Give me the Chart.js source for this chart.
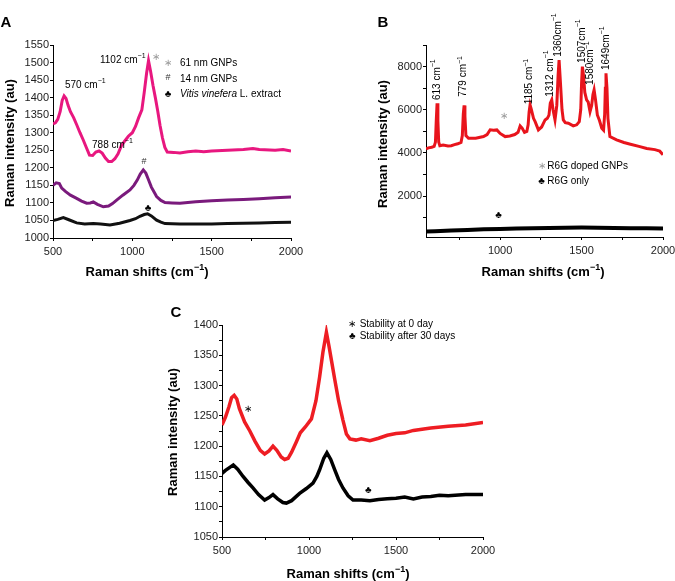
<!DOCTYPE html>
<html>
<head>
<meta charset="utf-8">
<script src="https://cdn.jsdelivr.net/npm/chart.js@4.4.0/dist/chart.umd.min.js"></script>
<style>
  html, body { margin: 0; padding: 0; background: #fff; overflow: hidden; }
  #wrap { position: relative; width: 675px; height: 581px; }
  canvas { position: absolute; }
</style>
</head>
<body>
<div id="wrap">
  <canvas id="chartA" width="310" height="290" style="left:0;top:0"></canvas>
  <canvas id="chartB" width="340" height="290" style="left:340px;top:0"></canvas>
  <canvas id="chartC" width="350" height="291" style="left:150px;top:290px"></canvas>
</div>
<script>
const FONT = '"Liberation Sans", Arial, sans-serif';

// Panel A - Raman spectra
const aPinkX = [500,515,530,545,558,570,582,595,610,630,650,670,690,710,730,750,770,790,810,830,850,870,890,910,930,950,975,1000,1020,1040,1060,1075,1090,1102,1115,1130,1145,1160,1175,1190,1205,1220,1260,1300,1350,1400,1450,1500,1600,1700,1760,1800,1900,1950,2000];
const aPinkY = [1325,1328,1338,1360,1392,1405,1398,1378,1360,1343,1322,1300,1280,1258,1236,1235,1245,1248,1242,1228,1218,1218,1226,1240,1262,1275,1290,1300,1318,1343,1365,1415,1470,1505,1475,1435,1400,1362,1320,1285,1258,1245,1244,1242,1246,1248,1246,1248,1250,1252,1255,1252,1250,1252,1248];
const aPurpleX = [500,520,540,555,580,610,649,680,712,735,754,780,817,850,875,901,940,985,1010,1031,1050,1069,1085,1100,1120,1153,1180,1206,1250,1300,1400,1500,1600,1700,1800,1900,2000];
const aPurpleY = [1150,1157,1155,1142,1132,1122,1113,1105,1099,1100,1103,1096,1089,1091,1098,1108,1122,1137,1150,1165,1182,1194,1185,1168,1145,1118,1107,1101,1100,1099,1103,1106,1108,1110,1112,1115,1117];
const aBlackX = [500,530,565,600,649,700,754,800,859,920,985,1020,1048,1075,1096,1120,1153,1180,1206,1300,1400,1500,1600,1700,1800,1900,2000];
const aBlackY = [1050,1053,1058,1052,1043,1040,1041,1040,1037,1042,1050,1055,1062,1067,1069,1063,1051,1045,1041,1040,1040,1040,1041,1042,1043,1044,1045];
const aXTicks = [500,750,1000,1250,1500,1750,2000];
const aXLabels = [500,1000,1500,2000];
const aYTicks = [1000,1050,1100,1150,1200,1250,1300,1350,1400,1450,1500,1550];
const aYLabels = aYTicks;

// Panel B - R6G
const bRedX = [545,560,580,595,603,608,613,618,623,630,650,680,700,720,740,760,768,774,779,784,790,806,850,898,920,939,960,980,1000,1031,1060,1090,1110,1123,1135,1150,1164,1172,1178,1184,1192,1205,1215,1235,1255,1276,1290,1300,1308,1317,1325,1337,1348,1356,1362,1370,1380,1388,1400,1419,1449,1470,1486,1495,1500,1505,1512,1520,1531,1541,1552,1562,1570,1577,1585,1597,1610,1624,1635,1642,1646,1650,1656,1662,1674,1715,1760,1800,1858,1900,1950,1980,2000];
const bRedY = [4180,4230,4260,4300,4500,5500,6300,5500,4500,4330,4360,4320,4330,4380,4420,4480,4800,5800,6200,5700,4800,4680,4680,4755,4850,5070,5050,5065,4900,4754,4780,4850,4950,5250,5150,4950,4990,5300,5900,6223,6000,5600,5450,5065,5200,5528,5600,5750,6300,6454,6000,5528,6200,7600,8305,7300,6000,5528,5400,5375,5250,5300,5450,6000,7200,7995,7600,6800,6454,6350,5912,6200,6700,6916,6500,5759,5500,5143,5050,5800,7000,7690,7000,5600,4754,4600,4480,4400,4291,4200,4150,4080,3907];
const bBlackX = [545,600,700,800,900,1000,1100,1200,1300,1400,1500,1600,1700,1800,1900,2000];
const bBlackY = [350,370,400,430,455,470,490,505,520,530,535,530,520,510,500,490];
const bXTicks = [750,1000,1250,1500,1750,2000];
const bXLabels = [1000,1500,2000];
const bYTicks = [1000,2000,3000,4000,5000,6000,7000,8000,9000];
const bYLabels = [2000,4000,6000,8000];
const bPeaks = ['613 ','779 ','1185 ','1312 ','1360','1507','1580','1649'];
const bPeakX = [612,775,1180,1305,1356,1502,1555,1652];
const bPeakY = [6450,6600,6250,6600,8450,8170,7150,7840];

// Panel C - stability
const cRedX = [500,520,540,555,570,585,600,630,660,690,720,745,770,793,815,840,860,880,900,927,950,980,1014,1040,1061,1080,1100,1115,1130,1148,1170,1195,1215,1235,1270,1300,1350,1400,1450,1500,1550,1600,1700,1800,1900,2000];
const cRedY = [1235,1248,1265,1280,1284,1278,1262,1240,1225,1208,1193,1187,1192,1200,1193,1182,1178,1180,1190,1207,1222,1232,1245,1275,1314,1355,1388,1365,1340,1310,1275,1243,1220,1212,1210,1212,1209,1213,1218,1221,1222,1226,1230,1233,1235,1239];
const cBlackX = [500,520,545,565,590,621,650,678,710,745,770,793,820,850,870,900,946,985,1023,1045,1061,1085,1103,1125,1148,1170,1195,1225,1253,1300,1350,1400,1450,1500,1550,1600,1650,1700,1750,1800,1900,2000];
const cBlackY = [1155,1160,1165,1169,1162,1150,1140,1131,1120,1111,1115,1120,1113,1107,1106,1110,1122,1130,1139,1150,1161,1180,1189,1178,1161,1145,1131,1118,1111,1111,1110,1112,1113,1114,1116,1113,1116,1117,1119,1118,1120,1120];
const cXTicks = [500,750,1000,1250,1500,1750,2000];
const cXLabels = [500,1000,1500,2000];
const cYTicks = [1050,1075,1100,1125,1150,1175,1200,1225,1250,1275,1300,1325,1350,1375,1400];
const cYLabels = [1050,1100,1150,1200,1250,1300,1350,1400];

function pts(xs, ys) {
    return xs.map((x, i) => ({ x: x, y: ys[i] }));
}

// "570 cm" + superscript -1
function cm(prefix) {
    return [{ t: prefix + 'cm' }, { t: '\u22121', sup: true }];
}
const shiftTitle = [{ t: 'Raman shifts (cm' }, { t: '\u22121', sup: true }, { t: ')' }];
const intensityTitle = [{ t: 'Raman intensity (au)' }];

// Text with mixed italic / superscript pieces
function richText(ctx, parts, x, y, o) {
    const size = o.size || 10;
    const w = o.bold ? 'bold ' : '';
    const fontFor = p => (p.it ? 'italic ' : '') + w + (p.sup ? Math.round(size * 0.72) : size) + 'px ' + FONT;
    let total = 0;
    parts.forEach(p => { ctx.font = fontFor(p); total += ctx.measureText(p.t).width; });
    let cx = o.align === 'center' ? x - total / 2 : x;
    ctx.fillStyle = o.color || '#000';
    ctx.textBaseline = 'middle';
    ctx.textAlign = 'left';
    parts.forEach(p => {
        ctx.font = fontFor(p);
        ctx.fillText(p.t, cx, p.sup ? y - size * 0.38 : y);
        cx += ctx.measureText(p.t).width;
    });
}

function notesPlugin(notes) {
    return {
        id: 'notes',
        afterDraw(chart) {
            const ctx = chart.ctx, xs = chart.scales.x, ys = chart.scales.y;
            notes.forEach(n => {
                const x = n.px !== undefined ? n.px : xs.getPixelForValue(n.dx);
                const y = n.py !== undefined ? n.py : ys.getPixelForValue(n.dy);
                ctx.save();
                ctx.translate(x, y);
                if (n.rot) ctx.rotate(n.rot);
                richText(ctx, n.parts, 0, 0, n);
                ctx.restore();
            });
        }
    };
}

function axis(min, max, ticks, labels, fitSize, isX) {
    return {
        type: 'linear',
        min: min,
        max: max,
        grid: { display: true, drawOnChartArea: false, drawTicks: true, tickLength: 3, tickColor: '#000', tickWidth: 1 },
        border: { display: true, color: '#000', width: 1 },
        ticks: {
            autoSkip: false, maxRotation: 0, padding: isX ? 4 : 1,
            color: '#222', font: { family: FONT, size: 11 },
            callback: v => labels.includes(v) ? String(v) : ''
        },
        afterBuildTicks: s => { s.ticks = ticks.map(v => ({ value: v })); },
        afterFit: s => { if (isX) s.height = fitSize; else s.width = fitSize; }
    };
}

function line(xs, ys, color, width) {
    return { data: pts(xs, ys), borderColor: color, borderWidth: width, pointRadius: 0, tension: 0, fill: false };
}

function makeChart(id, datasets, xAxis, yAxis, padding, notes) {
    return new Chart(document.getElementById(id), {
        type: 'line',
        data: { datasets: datasets },
        options: {
            responsive: false,
            animation: false,
            layout: { padding: padding },
            plugins: { legend: { display: false }, tooltip: { enabled: false } },
            scales: { x: xAxis, y: yAxis }
        },
        plugins: [notesPlugin(notes)]
    });
}

const GRAY = '#9a9a9a';

// Panel A
makeChart('chartA',
    [line(aPinkX, aPinkY, '#e8177f', 3), line(aPurpleX, aPurpleY, '#7a1a7c', 3), line(aBlackX, aBlackY, '#111', 3)],
    axis(500, 2000, aXTicks, aXLabels, 52, true),
    axis(1000, 1550, aYTicks, aYLabels, 53, false),
    { top: 45, right: 19, left: 0, bottom: 0 },
    [
        { px: 6, py: 23, parts: [{ t: 'A' }], size: 15, bold: true, align: 'center' },
        { px: 10, py: 143, rot: -Math.PI / 2, parts: intensityTitle, size: 13, bold: true, align: 'center' },
        { px: 147, py: 272, parts: shiftTitle, size: 13, bold: true, align: 'center' },
        { dx: 575, dy: 1436, parts: cm('570 '), size: 10 },
        { dx: 796, dy: 1507, parts: cm('1102 '), size: 10 },
        { dx: 746, dy: 1265, parts: cm('788 '), size: 10 },
        { dx: 1149, dy: 1516, parts: [{ t: '\u2217' }], size: 10, align: 'center', color: GRAY },
        { dx: 1073, dy: 1217, parts: [{ t: '#' }], size: 9, align: 'center', color: '#333' },
        { dx: 1099, dy: 1085, parts: [{ t: '\u2663' }], size: 10, align: 'center' },
        { dx: 1225, dy: 1499, parts: [{ t: '\u2217' }], size: 10, align: 'center', color: GRAY },
        { dx: 1225, dy: 1457, parts: [{ t: '#' }], size: 9, align: 'center', color: '#333' },
        { dx: 1225, dy: 1410, parts: [{ t: '\u2663' }], size: 10, align: 'center' },
        { dx: 1300, dy: 1499, parts: [{ t: '61 nm GNPs' }], size: 10 },
        { dx: 1300, dy: 1453, parts: [{ t: '14 nm GNPs' }], size: 10 },
        { dx: 1300, dy: 1410, parts: [{ t: 'Vitis vinefera', it: true }, { t: ' L. extract' }], size: 10 }
    ]);

// Panel B
const bNotes = [
    { px: 43, py: 23, parts: [{ t: 'B' }], size: 15, bold: true, align: 'center' },
    { px: 43, py: 144, rot: -Math.PI / 2, parts: intensityTitle, size: 13, bold: true, align: 'center' },
    { px: 203, py: 272, parts: shiftTitle, size: 13, bold: true, align: 'center' },
    { dx: 1025, dy: 5680, parts: [{ t: '\u2217' }], size: 10, align: 'center', color: GRAY },
    { dx: 1255, dy: 3400, parts: [{ t: '\u2217' }], size: 10, align: 'center', color: GRAY },
    { dx: 1255, dy: 2670, parts: [{ t: '\u2663' }], size: 10, align: 'center' },
    { dx: 1290, dy: 3400, parts: [{ t: 'R6G doped GNPs' }], size: 10 },
    { dx: 1290, dy: 2670, parts: [{ t: 'R6G only' }], size: 10 },
    { dx: 990, dy: 1100, parts: [{ t: '\u2663' }], size: 10, align: 'center' }
];
bPeaks.forEach((p, i) => {
    bNotes.push({ dx: bPeakX[i], dy: bPeakY[i], rot: -Math.PI / 2, parts: cm(p), size: 10 });
});
makeChart('chartB',
    [line(bRedX, bRedY, '#e8141c', 3), line(bBlackX, bBlackY, '#000', 4)],
    axis(545, 2000, bXTicks, bXLabels, 53, true),
    axis(100, 9000, bYTicks, bYLabels, 86, false),
    { top: 45, right: 17, left: 0, bottom: 0 },
    bNotes);

// Panel C
makeChart('chartC',
    [line(cRedX, cRedY, '#ee1d23', 3.5), line(cBlackX, cBlackY, '#000', 3.5)],
    axis(500, 2000, cXTicks, cXLabels, 44, true),
    axis(1050, 1400, cYTicks, cYLabels, 72, false),
    { top: 35, right: 17, left: 0, bottom: 0 },
    [
        { px: 26, py: 23, parts: [{ t: 'C' }], size: 15, bold: true, align: 'center' },
        { px: 23.5, py: 142, rot: -Math.PI / 2, parts: intensityTitle, size: 13, bold: true, align: 'center' },
        { px: 198, py: 284, parts: shiftTitle, size: 13, bold: true, align: 'center' },
        { dx: 1249, dy: 1402, parts: [{ t: '\u2217' }], size: 10, align: 'center' },
        { dx: 1249, dy: 1382, parts: [{ t: '\u2663' }], size: 10, align: 'center' },
        { dx: 1291, dy: 1402, parts: [{ t: 'Stability at 0 day' }], size: 10 },
        { dx: 1291, dy: 1382, parts: [{ t: 'Stability after 30 days' }], size: 10 },
        { dx: 649, dy: 1261, parts: [{ t: '\u2217' }], size: 10, align: 'center' },
        { dx: 1341, dy: 1127, parts: [{ t: '\u2663' }], size: 10, align: 'center' }
    ]);
</script>
</body>
</html>
